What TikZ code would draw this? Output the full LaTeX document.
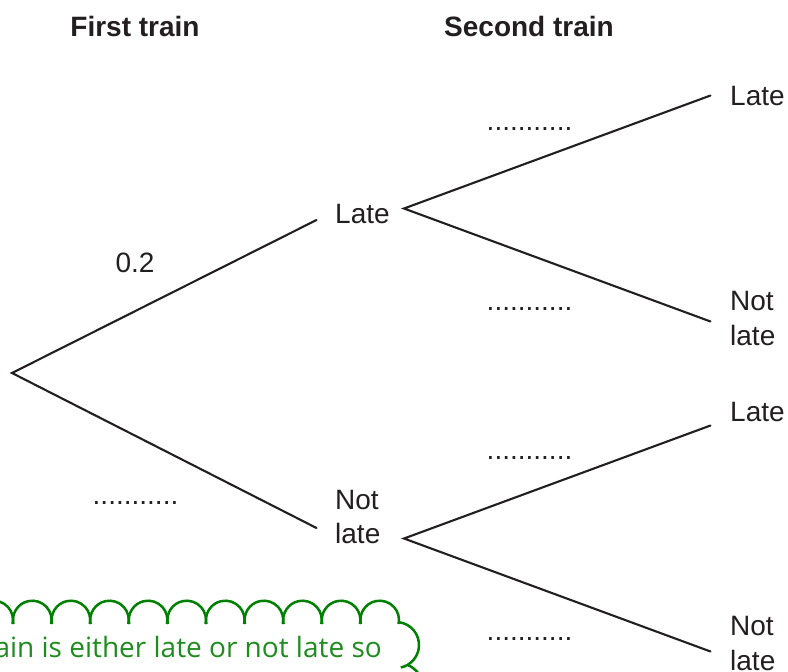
\documentclass[tikz,border=0pt]{standalone}
\usepackage{fontspec}
\setmainfont{Liberation Sans}
\newfontfamily\notefont{Open Sans}
\definecolor{ink}{RGB}{35,31,32}
\definecolor{cloudgreen}{RGB}{0,128,0}
\definecolor{notegreen}{RGB}{30,140,30}
\begin{document}
\begin{tikzpicture}[x=1pt,y=-1pt,
  branch/.style={draw=ink, line width=2.1pt, line cap=round},
  lbl/.style={inner sep=0pt, text=ink, font=\fontsize{28}{34}\selectfont, anchor=base west},
  head/.style={inner sep=0pt, text=ink, font=\bfseries\fontsize{28}{34}\selectfont, anchor=base},
  blank/.style={inner sep=0pt, text=ink, font=\fontsize{28}{34}\selectfont, anchor=base},
  cloudline/.style={draw=cloudgreen, line width=2.5pt},
  note/.style={inner sep=0pt, text=notegreen, font=\notefont\fontsize{28}{34}\selectfont}]
\fill[white] (0,0) rectangle (788,672);
\useasboundingbox (0,0) rectangle (788,672);
\clip (0,0) rectangle (788,672);

% headings
\node[head] (h1) at (135,36) {First train};
\node[head] (h2) at (529,36) {Second train};

% branch points
\coordinate (root) at (12,373);
\coordinate (aL) at (316.5,220);
\coordinate (aN) at (316.5,528);
\coordinate (bL) at (404,208.5);
\coordinate (bN) at (404,538.5);
\coordinate (bLL) at (710.5,95.5);
\coordinate (bLN) at (710.5,321.5);
\coordinate (bNL) at (710.5,425.5);
\coordinate (bNN) at (710.5,651.5);

\draw[branch] (aL) -- (root) -- (aN);
\draw[branch] (bLL) -- (bL) -- (bLN);
\draw[branch] (bNL) -- (bN) -- (bNN);

% outcome labels
\node[lbl] (l1) at (335,223) {Late};
\node[lbl] (n1a) at (335,509) {Not};
\node[lbl] (n1b) at (335,543) {late};
\node[lbl] (l2) at (730,105) {Late};
\node[lbl] (n2a) at (730,310) {Not};
\node[lbl] (n2b) at (730,345) {late};
\node[lbl] (l3) at (730,421) {Late};
\node[lbl] (n3a) at (730,635) {Not};
\node[lbl] (n3b) at (730,670) {late};

% probabilities
\node[blank] (p1) at (135,272) {0.2};
\node[blank] (p2) at (135.5,504) {...........};
\node[blank] (p3) at (529.5,130) {...........};
\node[blank] (p4) at (529.5,310) {...........};
\node[blank] (p5) at (529.5,459) {...........};
\node[blank] (p6) at (529.5,640) {...........};

% cloud callout (cut off by the frame)
\foreach \c in {-6.3,32.3,70.9,109.5,148.1,186.7,225.3,263.9,302.5,341.1,379.7}
  \draw[cloudline] ([shift={(192:19.3pt)}]\c,620) arc[start angle=192,end angle=-12,radius=19.3pt];
\draw[cloudline] ([shift={(84:23pt)}]396,645) arc[start angle=84,end angle=-78,radius=23pt];
\draw[cloudline] ([shift={(66:25pt)}]398,688) arc[start angle=66,end angle=-30,radius=25pt];
\node[note, anchor=base east] (note) at (382,657) {Each train is either late or not late so};
\end{tikzpicture}
\end{document}
